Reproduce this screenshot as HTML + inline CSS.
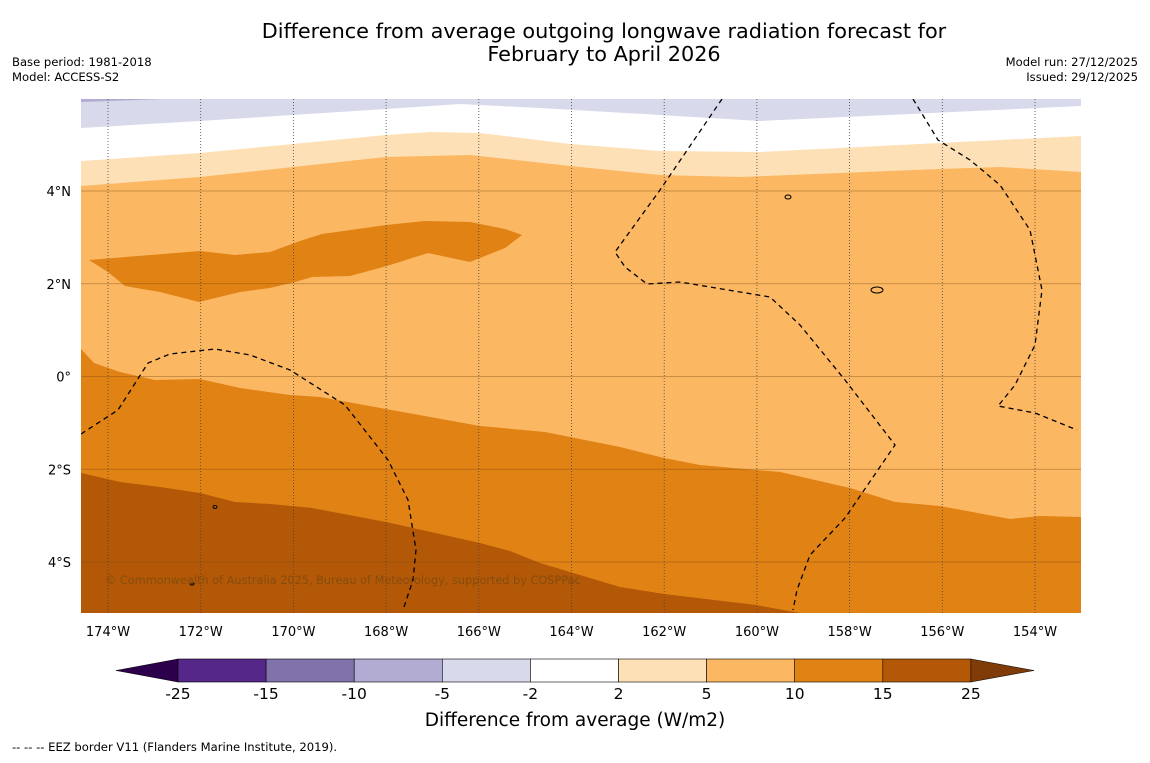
<!DOCTYPE html>
<html><head><meta charset="utf-8"><style>
body{margin:0;background:#fff;font-family:"Liberation Sans","DejaVu Sans",sans-serif}
svg text{font-family:"DejaVu Sans","Liberation Sans",sans-serif}
</style></head><body>
<svg id="chart" width="1150" height="758" viewBox="0 0 1150 758" xmlns="http://www.w3.org/2000/svg">
<rect width="1150" height="758" fill="#fff"/>
<text x="604" y="38" font-size="20.8" text-anchor="middle">Difference from average outgoing longwave radiation forecast for</text>
<text x="604" y="61" font-size="20.8" text-anchor="middle">February to April 2026</text>
<text x="12" y="66" font-size="11.6">Base period: 1981-2018</text>
<text x="12" y="81" font-size="11.6">Model: ACCESS-S2</text>
<text x="1138" y="66" font-size="11.6" text-anchor="end">Model run: 27/12/2025</text>
<text x="1138" y="81" font-size="11.6" text-anchor="end">Issued: 29/12/2025</text>
<defs><clipPath id="mapclip"><rect x="81" y="99" width="1000" height="514"/></clipPath></defs>
<g id="map" clip-path="url(#mapclip)">
<rect x="81" y="99" width="1000" height="514" fill="#d8daeb"/>
<polygon points="81,99 165,99 81,102" fill="#b2abd2"/>
<polygon points="81,128 200,121 386,109 460,104 540,108 660,115 760,121 1081,106 1081,613 81,613" fill="#ffffff"/>
<polygon points="81,161 200,153 386,135 430,132 480,133 570,144 660,151 760,152 940,143 1081,136 1081,613 81,613" fill="#fee0b6"/>
<polygon points="81,186 200,177 386,157 470,155 570,166 660,175 740,177 940,169 1000,167 1081,172 1081,613 81,613" fill="#fbb762"/>
<polygon points="89,260 200,251 235,255 270,252 300,241 322,234 386,225 425,221 470,222 505,229 522,235 505,248 470,262 428,253 390,265 350,276 312,277 295,282 270,288 240,292 199,302 160,292 125,286 108,272" fill="#e08214"/>
<polygon points="81,349 94,363 120,372 155,380 200,379 240,388 290,395 320,397 386,409 480,426 545,432 620,447 664,458 700,465 756,470 780,472 850,488 895,502 940,506 1010,519 1040,516 1081,517 1081,613 81,613" fill="#e08214"/>
<polygon points="81,473 120,482 160,487 200,493 235,502 270,504 312,508 386,522 480,543 510,551 540,563 620,587 664,594 756,605 800,613 81,613" fill="#b35806"/>
<g id="grid"></g>
<g fill="none" stroke="#000" stroke-width="1.3" stroke-dasharray="5,4">
<polyline points="81,434 118,410 148,363 170,354 215,349 250,355 290,370 345,405 388,460 408,500 416,550 413,580 404,607"/>
<polyline points="722,99 660,190 615,252 625,267 647,284 680,282 770,297 800,325 845,380 895,445 845,518 810,555 797,590 793,610"/>
<polyline points="913,99 938,140 970,160 1000,185 1030,230 1042,290 1035,345 1015,385 998,406 1035,413 1077,430"/>
</g>
<g fill="none" stroke="#000" stroke-width="1">
<ellipse cx="788" cy="197" rx="3" ry="2"/><ellipse cx="877" cy="290" rx="6" ry="3"/><ellipse cx="215" cy="507" rx="2" ry="1.5"/><ellipse cx="192" cy="584" rx="2" ry="1"/>
</g>
<text x="105" y="584" font-size="11.3" fill="#7a4a10" fill-opacity="0.8">© Commonwealth of Australia 2025, Bureau of Meteorology, supported by COSPPac</text>
</g>
<g id="axes"></g>
<g id="cbar"></g>
<text x="575" y="726" font-size="18.5" text-anchor="middle">Difference from average (W/m2)</text>
<text x="12" y="751" font-size="11.6">--  --  -- EEZ border V11 (Flanders Marine Institute, 2019).</text>
</svg>
<script>
const lonTicks=[-174,-172,-170,-168,-166,-164,-162,-160,-158,-156,-154];
const latTicks=[4,2,0,-2,-4];
const levelLabels=["-25","-15","-10","-5","-2","2","5","10","15","25"];
const levelColors=["#542788","#8073ac","#b2abd2","#d8daeb","#ffffff","#fee0b6","#fbb762","#e08214","#b35806"];
const NS="http://www.w3.org/2000/svg";
function xLon(l){return 108+(l+174)*46.35;}
function yLat(l){return 376.5-l*46.375;}
function mk(t,a,p){const e=document.createElementNS(NS,t);for(const k in a)e.setAttribute(k,a[k]);p.appendChild(e);return e;}
const grid=document.getElementById('grid'),axes=document.getElementById('axes'),cb=document.getElementById('cbar');
lonTicks.forEach(l=>{const x=xLon(l);
const ln=mk('line',{x1:x,x2:x,y1:99,y2:613,stroke:'#444','stroke-width':0.8,'stroke-dasharray':'1,2'},grid);


const t=mk('text',{x:x,y:636,'font-size':13,'text-anchor':'middle'},axes);t.textContent=Math.abs(l)+'°W';

});
latTicks.forEach(l=>{const y=yLat(l);
const ln=mk('line',{x1:81,x2:1081,y1:y,y2:y,stroke:'#7a4a10','stroke-opacity':0.5,'stroke-width':0.8},grid);


const t=mk('text',{x:71,y:y+5,'font-size':13,'text-anchor':'end'},axes);t.textContent=l===0?'0°':Math.abs(l)+'°'+(l>0?'N':'S');

});
const cx0=178,cw=88.1,cy=659,ch=23;
const lt=mk('polygon',{points:`116,670.5 ${cx0},${cy} ${cx0},${cy+ch}`,fill:'#2d004b',stroke:'#000','stroke-width':0.5},cb);


levelColors.forEach((c,i)=>{const r=mk('rect',{x:cx0+i*cw,y:cy,width:cw,height:ch,fill:c,stroke:'#000','stroke-width':0.6},cb);

});
const xe=cx0+levelColors.length*cw;
const rt=mk('polygon',{points:`${xe},${cy} 1034,670.5 ${xe},${cy+ch}`,fill:'#7f3b08',stroke:'#000','stroke-width':0.5},cb);


levelLabels.forEach((s,i)=>{const t=mk('text',{x:cx0+i*cw,y:699,'font-size':15.5,'text-anchor':'middle'},cb);t.textContent=s;

});
</script>
</body></html>
